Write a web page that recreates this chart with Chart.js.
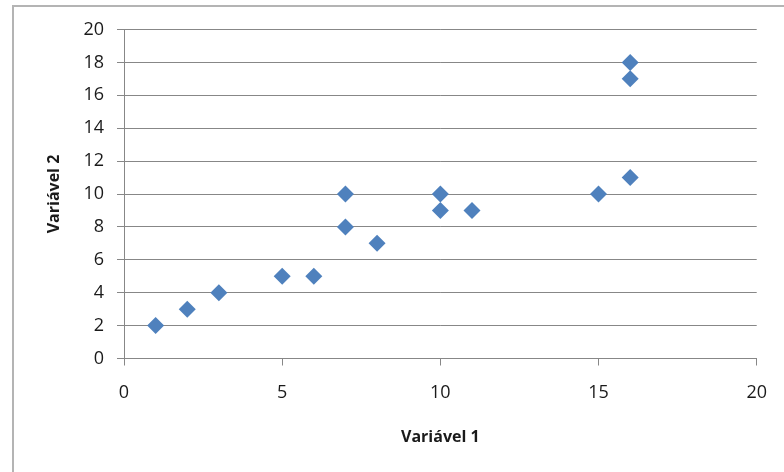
<!DOCTYPE html>
<html>
<head>
<meta charset="utf-8">
<script src="https://cdn.jsdelivr.net/npm/chart.js@4"></script>
<style>
  html, body { margin: 0; padding: 0; background: #fff; }
  #wrap { position: relative; width: 784px; height: 472px; overflow: hidden; }
  #frame { position: absolute; left: 12px; top: 5px; width: 900px; height: 600px;
           border-left: 2px solid #b4b4b4; border-top: 2px solid #b4b4b4; }
  #myChart { position: absolute; left: 0; top: 0; }
</style>
</head>
<body>
<div id="wrap">
  <div id="frame"></div>
  <canvas id="myChart" width="784" height="472"></canvas>
</div>
<script>
// values
const xValues = [1, 2, 3, 5, 6, 7, 7, 8, 10, 10, 11, 15, 16, 16, 16];
const yValues = [2, 3, 4, 5, 5, 10, 8, 7, 10, 9, 9, 10, 18, 17, 11];
const xTitle = "Variável 1";
const yTitle = "Variável 2";

const points = xValues.map((x, i) => ({ x: x, y: yValues[i] }));

const fontFamily = "'Open Sans', 'Liberation Sans', sans-serif";
const gridColor = '#878787';

const myChart = new Chart(document.getElementById('myChart'), {
  type: 'scatter',
  data: {
    datasets: [{
      data: points,
      pointStyle: 'rectRot',
      pointRadius: 8.5,
      pointHoverRadius: 8.5,
      borderWidth: 0,
      backgroundColor: '#4F81BD',
      borderColor: '#4F81BD'
    }]
  },
  options: {
    responsive: false,
    animation: false,
    layout: { padding: { left: 0, top: 29.5, right: 24, bottom: 0 } },
    plugins: {
      legend: { display: false },
      tooltip: { enabled: false }
    },
    scales: {
      x: {
        min: 0, max: 20,
        afterFit: s => { s.height = 113.5; },
        ticks: { stepSize: 5, padding: 17, color: '#1a1a1a', font: { family: fontFamily, size: 18 } },
        grid: { drawOnChartArea: false, drawTicks: true, tickLength: 7, color: gridColor },
        border: { color: gridColor, width: 1 },
        title: { display: true, text: xTitle, color: '#1a1a1a', padding: { top: 0, bottom: 25 },
                 font: { family: fontFamily, size: 16, weight: 'bold' } }
      },
      y: {
        min: 0, max: 20,
        afterFit: s => { s.width = 124; },
        ticks: { stepSize: 2, padding: 13, color: '#1a1a1a', font: { family: fontFamily, size: 18 } },
        grid: { drawTicks: true, tickLength: 7, color: gridColor },
        border: { color: gridColor, width: 1 },
        title: { display: true, text: yTitle, color: '#1a1a1a', padding: { top: 45, bottom: 0 },
                 font: { family: fontFamily, size: 16, weight: 'bold' } }
      }
    }
  }
});
</script>
</body>
</html>
